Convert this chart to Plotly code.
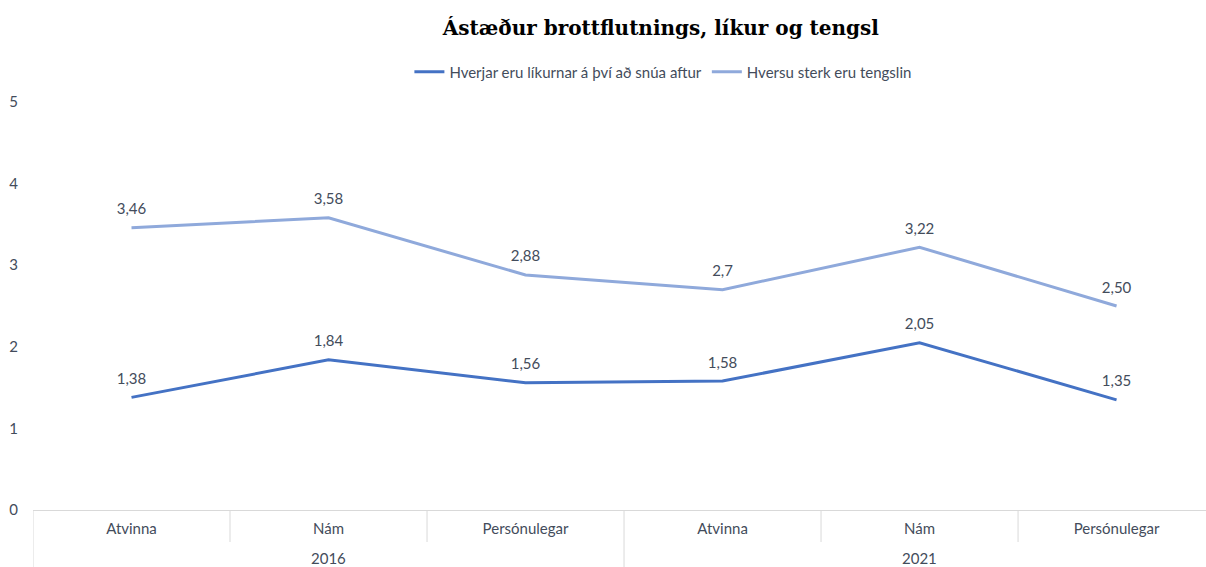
import plotly.graph_objects as go

categories = ["Atvinna", "Nám", "Persónulegar", "Atvinna", "Nám", "Persónulegar"]
years = ["2016", "2021"]
likur = [1.38, 1.84, 1.56, 1.58, 2.05, 1.35]
likur_labels = ["1,38", "1,84", "1,56", "1,58", "2,05", "1,35"]
tengsl = [3.46, 3.58, 2.88, 2.7, 3.22, 2.50]
tengsl_labels = ["3,46", "3,58", "2,88", "2,7", "3,22", "2,50"]
y_ticks = [0, 1, 2, 3, 4, 5]

x = list(range(len(categories)))
text_color = "#434C5B"
grid_color = "#D9D9D9"
font_family = "Lato"

series = [
    ("Hverjar eru líkurnar á því að snúa aftur", likur, likur_labels, "#4472C4"),
    ("Hversu sterk eru tengslin", tengsl, tengsl_labels, "#8FA9DB"),
]

fig = go.Figure()
for name, vals, labels, color in series:
    fig.add_trace(go.Scatter(
        x=x, y=vals, mode="lines", line=dict(color=color, width=3), name=name))
for name, vals, labels, color in series:
    fig.add_trace(go.Scatter(
        x=x, y=vals, mode="markers+text", text=labels, textposition="top center",
        textfont=dict(size=15, color=text_color, family=font_family),
        marker=dict(size=14, opacity=0, color=color), showlegend=False,
        hoverinfo="skip", cliponaxis=False))

# dividers
plot_h = 408
short_y = -32 / plot_h
for b in [0.5, 1.5, 3.5, 4.5]:
    fig.add_shape(type="line", xref="x", yref="paper", x0=b, x1=b, y0=0, y1=short_y,
                  line=dict(color=grid_color, width=1))
for b in [-0.5, 2.5]:
    fig.add_shape(type="line", xref="x", yref="paper", x0=b, x1=b, y0=0, y1=-0.2,
                  line=dict(color=grid_color, width=1))

for i, yr in enumerate(years):
    fig.add_annotation(x=1 + 3 * i, y=-48 / plot_h, xref="x", yref="paper", text=yr,
                       showarrow=False, yanchor="middle",
                       font=dict(size=15, color=text_color, family=font_family))

fig.update_layout(
    width=1206, height=567,
    margin=dict(l=33, r=0, t=102, b=57),
    paper_bgcolor="white", plot_bgcolor="white",
    title=dict(text="<b>Ástæður brottflutnings, líkur og tengsl</b>",
               x=0.548, xref="container", xanchor="center",
               y=1 - 28 / 567, yref="container", yanchor="middle",
               font=dict(family="DejaVu Serif", size=20, color="black")),
    legend=dict(orientation="h", x=0.537, xanchor="center", y=1 + 30 / plot_h,
                yanchor="middle", font=dict(size=15, color=text_color, family=font_family),
                itemwidth=30, bgcolor="rgba(0,0,0,0)"),
    showlegend=True,
    xaxis=dict(range=[-0.5, 5.454], tickvals=x, ticktext=categories, showgrid=False,
               zeroline=False, showline=True, linecolor=grid_color, linewidth=1,
               ticks="", tickfont=dict(size=15, color=text_color, family=font_family),
               ticklabelstandoff=5),
    yaxis=dict(range=[0, 5], tickvals=y_ticks, showgrid=False, zeroline=False,
               showline=False, ticks="", tickfont=dict(size=15, color=text_color, family=font_family),
               ticklabelstandoff=14),
)

fig.write_html("out.html", config={"displayModeBar": False},
               post_script="document.body.style.margin='0';document.body.style.overflow='hidden';")
